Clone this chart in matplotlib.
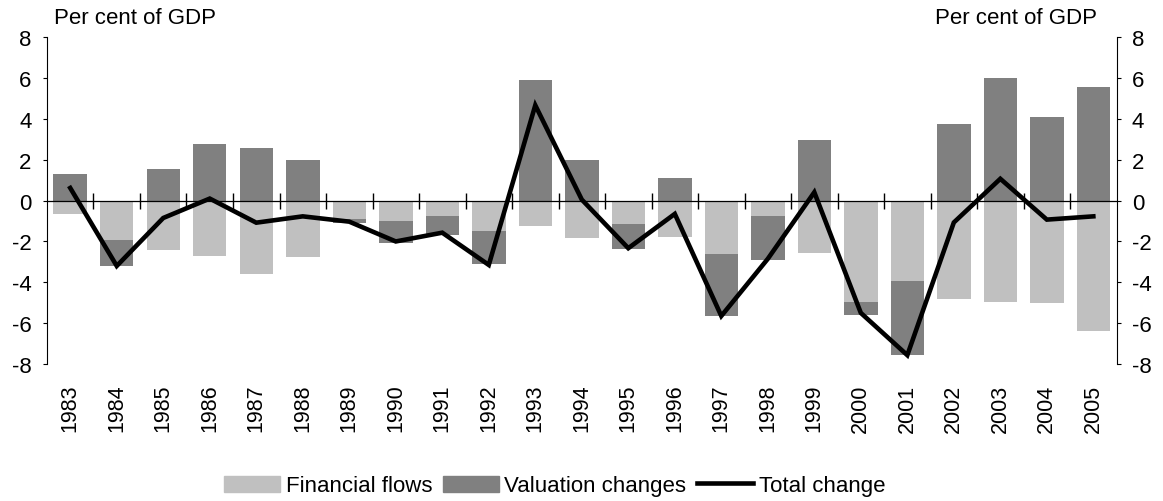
"""Financial flows vs valuation changes, per cent of GDP, 1983-2005."""

import numpy as np
import matplotlib
matplotlib.use("Agg")
import matplotlib.pyplot as plt
from matplotlib.patches import Patch
from matplotlib.lines import Line2D

years = list(range(1983, 2006))
financial_flows = [-0.64, -1.92, -2.44, -2.69, -3.60, -2.77, -0.88, -1.00, -0.74, -1.47,
                   -1.26, -1.83, -1.13, -1.80, -2.62, -0.77, -2.57, -4.95, -3.93, -4.83,
                   -4.95, -5.03, -6.38]
valuation_changes = [1.28, -1.28, 1.56, 2.79, 2.56, 2.00, -0.22, -1.08, -0.93, -1.63,
                     5.93, 1.98, -1.25, 1.12, -3.03, -2.13, 2.97, -0.65, -3.64, 3.77,
                     6.01, 4.10, 5.59]
total_change = [0.62, -3.20, -0.85, 0.10, -1.08, -0.77, -1.03, -2.00, -1.57, -3.15,
                4.67, 0.05, -2.33, -0.65, -5.65, -2.85, 0.41, -5.50, -7.57, -1.07,
                1.07, -0.93, -0.77]

LIGHT = "#c0c0c0"
DARK = "#808080"
FS = 16

plt.rcParams["font.family"] = ["Liberation Sans", "DejaVu Sans"]
plt.rcParams["axes.unicode_minus"] = False

fig = plt.figure(figsize=(11.63, 5.02), dpi=100)
ax = fig.add_axes([0.0404, 0.273, 0.9197, 0.6507])

x = np.arange(len(years))
fin = np.array(financial_flows)
val = np.array(valuation_changes)
val_bottom = np.where(val < 0, fin, 0.0)

ax.bar(x, fin, width=0.72, color=LIGHT, zorder=2)
ax.bar(x, val, bottom=val_bottom, width=0.72, color=DARK, zorder=2)
ax.axhline(0, color="black", lw=0.9, zorder=3)

# category separators crossing the zero line
bounds = np.arange(0.5, len(years) - 1, 1.0)
ax.plot(bounds, np.zeros_like(bounds), ls="none", marker="|", ms=11, mew=1.0,
        color="black", zorder=3)

ax.plot(x, total_change, color="black", lw=3.3, zorder=4, solid_joinstyle="miter")

ax.set_xlim(-0.5, len(years) - 0.5)
ax.set_ylim(-8, 8)
ax.set_yticks(range(-8, 9, 2))
ax.tick_params(axis="y", labelsize=FS, length=3, width=0.8, direction="out", pad=8,
               left=True, right=True, labelleft=True, labelright=True)

ax.set_xticks(x)
ax.set_xticklabels([str(y) for y in years], rotation=90, fontsize=FS - 0.5)
ax.tick_params(axis="x", length=0, pad=14)

for s in ("top", "bottom"):
    ax.spines[s].set_visible(False)
ax.spines["left"].set_linewidth(0.8)
ax.spines["right"].set_linewidth(0.8)

ax.text(0.007, 1.03, "Per cent of GDP", transform=ax.transAxes, fontsize=FS, ha="left", va="bottom")
ax.text(0.982, 1.03, "Per cent of GDP", transform=ax.transAxes, fontsize=FS, ha="right", va="bottom")

handles = [Patch(color=LIGHT), Patch(color=DARK), Line2D([0], [0], color="black", lw=3.3)]
fig.legend(handles, ["Financial flows", "Valuation changes", "Total change"],
           loc="center", bbox_to_anchor=(0.477, 0.03), ncol=3, frameon=False, fontsize=FS,
           handlelength=2.5, handleheight=0.75, handletextpad=0.25, columnspacing=0.5)

fig.savefig("out.png", dpi=100)
